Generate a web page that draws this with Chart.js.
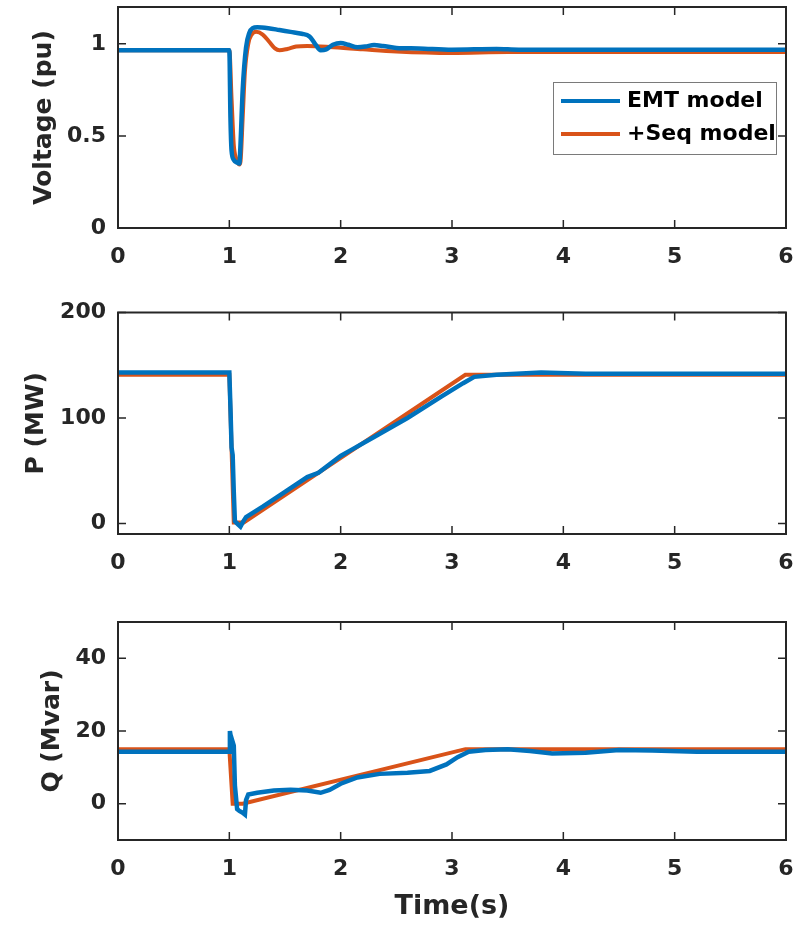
<!DOCTYPE html>
<html>
<head>
<meta charset="utf-8">
<script src="https://cdn.jsdelivr.net/npm/chart.js@4.4.1/dist/chart.umd.min.js"></script>
<style>
  html, body { margin: 0; padding: 0; background: #fff; }
  #wrap { position: relative; width: 802px; height: 925px; }
  canvas { position: absolute; left: 0; }
</style>
</head>
<body>
<div id="wrap">
  <canvas id="c-volt" width="802" height="290" style="top:0px"></canvas>
  <canvas id="c-p" width="802" height="290" style="top:295px"></canvas>
  <canvas id="c-q" width="802" height="320" style="top:605px"></canvas>
</div>
<script>
// --- data ---
const timeTicks = [0, 1, 2, 3, 4, 5, 6];

// Voltage (pu)
const voltTicks = [0, 0.5, 1];
const tVoltEmt = [0, 1.0, 1.01, 1.02, 1.04, 1.07, 1.09, 1.1, 1.12, 1.15, 1.18, 1.21, 1.25, 1.35, 1.45, 1.55, 1.65, 1.72, 1.77, 1.82, 1.87, 1.93, 2.0, 2.07, 2.15, 2.22, 2.3, 2.38, 2.5, 2.7, 3.0, 3.4, 3.6, 4.0, 6.0];
const voltEmt  = [0.965, 0.965, 0.6, 0.42, 0.37, 0.355, 0.35, 0.45, 0.75, 0.98, 1.06, 1.085, 1.09, 1.085, 1.075, 1.065, 1.055, 1.04, 1.0, 0.965, 0.97, 0.995, 1.005, 0.995, 0.982, 0.985, 0.993, 0.988, 0.978, 0.975, 0.968, 0.972, 0.968, 0.968, 0.968];
const tVoltSeq = [0, 1.0, 1.02, 1.04, 1.06, 1.09, 1.1, 1.12, 1.14, 1.17, 1.2, 1.24, 1.3, 1.36, 1.41, 1.45, 1.52, 1.6, 1.7, 1.9, 2.2, 2.5, 3.0, 3.5, 6.0];
const voltSeq  = [0.965, 0.965, 0.7, 0.45, 0.38, 0.345, 0.36, 0.6, 0.85, 1.0, 1.05, 1.065, 1.05, 1.01, 0.975, 0.965, 0.972, 0.985, 0.988, 0.983, 0.97, 0.958, 0.95, 0.955, 0.955];

// P (MW)
const pTicks = [0, 100, 200];
const tPEmt = [0, 1.0, 1.01, 1.02, 1.03, 1.04, 1.05, 1.08, 1.1, 1.12, 1.15, 1.3, 1.5, 1.7, 1.8, 2.0, 2.1, 2.3, 2.6, 2.9, 3.1, 3.2, 3.4, 3.8, 4.2, 6.0];
const pEmt  = [143, 143, 110, 72, 65, 30, 2, -1, -3, 1, 6, 16, 30, 44, 48, 64, 70, 82, 100, 120, 133, 139, 141, 143, 142, 142];
const tPSeq = [0, 1.0, 1.04, 1.13, 3.12, 6.0];
const pSeq  = [141, 141, 1, 1, 141, 141];

// Q (Mvar)
const qTicks = [0, 20, 40];
const tQEmt = [0, 1.0, 1.005, 1.015, 1.02, 1.03, 1.04, 1.05, 1.07, 1.09, 1.12, 1.14, 1.15, 1.17, 1.25, 1.4, 1.55, 1.7, 1.82, 1.9, 2.0, 2.15, 2.35, 2.6, 2.8, 2.95, 3.05, 3.15, 3.3, 3.5, 3.7, 3.9, 4.2, 4.5, 4.8, 5.2, 6.0];
const qEmt  = [14.3, 14.3, 20, 18, 15, 17, 16, 5, -1.5, -2, -2.5, -3, 1, 2.5, 3, 3.6, 3.8, 3.6, 3.0, 3.8, 5.5, 7.2, 8.2, 8.5, 9.0, 10.8, 12.8, 14.3, 14.8, 15.0, 14.5, 13.8, 14.0, 14.8, 14.6, 14.3, 14.3];
const tQSeq = [0, 1.0, 1.03, 1.12, 3.12, 6.0];
const qSeq  = [15, 15, 0, 0, 15, 15];

const seriesNames = ['EMT model', '+Seq model'];
const BLUE = '#0072BD';
const ORANGE = '#D95319';
const INK = '#262626';
const FONT = '"DejaVu Sans", sans-serif';

const pts = (ts, vs) => ts.map((t, i) => ({ x: t, y: vs[i] }));

// MATLAB-like box with inward ticks on all four sides
const boxPlugin = {
  id: 'box',
  afterDraw(chart) {
    const { ctx, chartArea: a, scales } = chart;
    ctx.save();
    ctx.strokeStyle = INK;
    ctx.lineWidth = 1.5;
    ctx.beginPath();
    scales.x.ticks.forEach(t => {
      const px = scales.x.getPixelForValue(t.value);
      ctx.moveTo(px, a.bottom); ctx.lineTo(px, a.bottom - 8);
      ctx.moveTo(px, a.top); ctx.lineTo(px, a.top + 8);
    });
    scales.y.ticks.forEach(t => {
      const py = scales.y.getPixelForValue(t.value);
      ctx.moveTo(a.left, py); ctx.lineTo(a.left + 8, py);
      ctx.moveTo(a.right, py); ctx.lineTo(a.right - 8, py);
    });
    ctx.stroke();
    ctx.lineWidth = 2;
    ctx.strokeRect(a.left, a.top, a.right - a.left, a.bottom - a.top);
    ctx.restore();
  }
};

const legendPlugin = {
  id: 'boxLegend',
  afterDraw(chart) {
    const { ctx } = chart;
    ctx.save();
    ctx.fillStyle = '#fff';
    ctx.fillRect(553, 82, 223, 72);
    ctx.strokeStyle = '#7a7a7a';
    ctx.lineWidth = 1;
    ctx.strokeRect(553.5, 82.5, 223, 72);
    chart.data.datasets.forEach((ds, i) => {
      const y = 101 + i * 33;
      ctx.strokeStyle = ds.borderColor;
      ctx.lineWidth = 4;
      ctx.beginPath(); ctx.moveTo(561, y); ctx.lineTo(620, y); ctx.stroke();
      ctx.fillStyle = '#000';
      ctx.font = 'bold 22px ' + FONT;
      ctx.textBaseline = 'middle';
      ctx.fillText(ds.label, 627, y);
    });
    ctx.restore();
  }
};

function makePanel(id, opt) {
  const plugins = [boxPlugin];
  if (opt.legend) plugins.push(legendPlugin);
  return new Chart(document.getElementById(id), {
    type: 'line',
    data: {
      datasets: [
        { label: seriesNames[0], data: opt.emt, borderColor: BLUE, borderWidth: 4.5, pointRadius: 0, cubicInterpolationMode: opt.smooth ? 'monotone' : 'default', tension: 0 },
        { label: seriesNames[1], data: opt.seq, borderColor: ORANGE, borderWidth: 4, pointRadius: 0, cubicInterpolationMode: opt.smooth ? 'monotone' : 'default', tension: 0 },
      ]
    },
    options: {
      responsive: false,
      animation: false,
      layout: { padding: { left: 0, right: 16, top: opt.padTop, bottom: 0 } },
      plugins: { legend: { display: false }, tooltip: { enabled: false } },
      scales: {
        x: {
          type: 'linear', min: 0, max: 6,
          grid: { display: false, drawTicks: false },
          border: { display: false },
          afterBuildTicks: s => { s.ticks = timeTicks.map(v => ({ value: v })); },
          afterFit: s => { s.height = opt.xHeight; s.paddingLeft = 0; s.paddingRight = 0; },
          ticks: { color: INK, padding: 16, maxRotation: 0, font: { family: FONT, size: 22, weight: 'bold' }, callback: v => String(v) },
          title: opt.xTitle ? { display: true, text: opt.xTitle, color: INK, font: { family: FONT, size: 27, weight: 'bold' }, padding: { top: 0, bottom: 2 } } : { display: false },
        },
        y: {
          min: opt.min, max: opt.max,
          grid: { display: false, drawTicks: false },
          border: { display: false },
          afterBuildTicks: s => { s.ticks = opt.ticks.map(v => ({ value: v })); },
          afterFit: s => { s.width = 118; s.paddingTop = 0; s.paddingBottom = 0; },
          ticks: { color: INK, padding: 12, font: { family: FONT, size: 22, weight: 'bold' }, callback: v => String(v) },
          title: { display: true, text: opt.yTitle, color: INK, font: { family: FONT, size: 25, weight: 'bold' }, padding: { top: opt.titlePad, bottom: 0 } },
        }
      }
    },
    plugins
  });
}

makePanel('c-volt', { emt: pts(tVoltEmt, voltEmt), seq: pts(tVoltSeq, voltSeq), min: 0, max: 1.2, ticks: voltTicks, yTitle: 'Voltage (pu)', padTop: 7, xHeight: 62, titlePad: 29, smooth: true, legend: true });
makePanel('c-p', { emt: pts(tPEmt, pEmt), seq: pts(tPSeq, pSeq), min: -10, max: 200, ticks: pTicks, yTitle: 'P (MW)', padTop: 17.5, xHeight: 51, titlePad: 21, smooth: false });
makePanel('c-q', { emt: pts(tQEmt, qEmt), seq: pts(tQSeq, qSeq), min: -10, max: 50, ticks: qTicks, yTitle: 'Q (Mvar)', padTop: 17, xHeight: 85, titlePad: 37, smooth: false, xTitle: 'Time(s)' });
</script>
</body>
</html>
